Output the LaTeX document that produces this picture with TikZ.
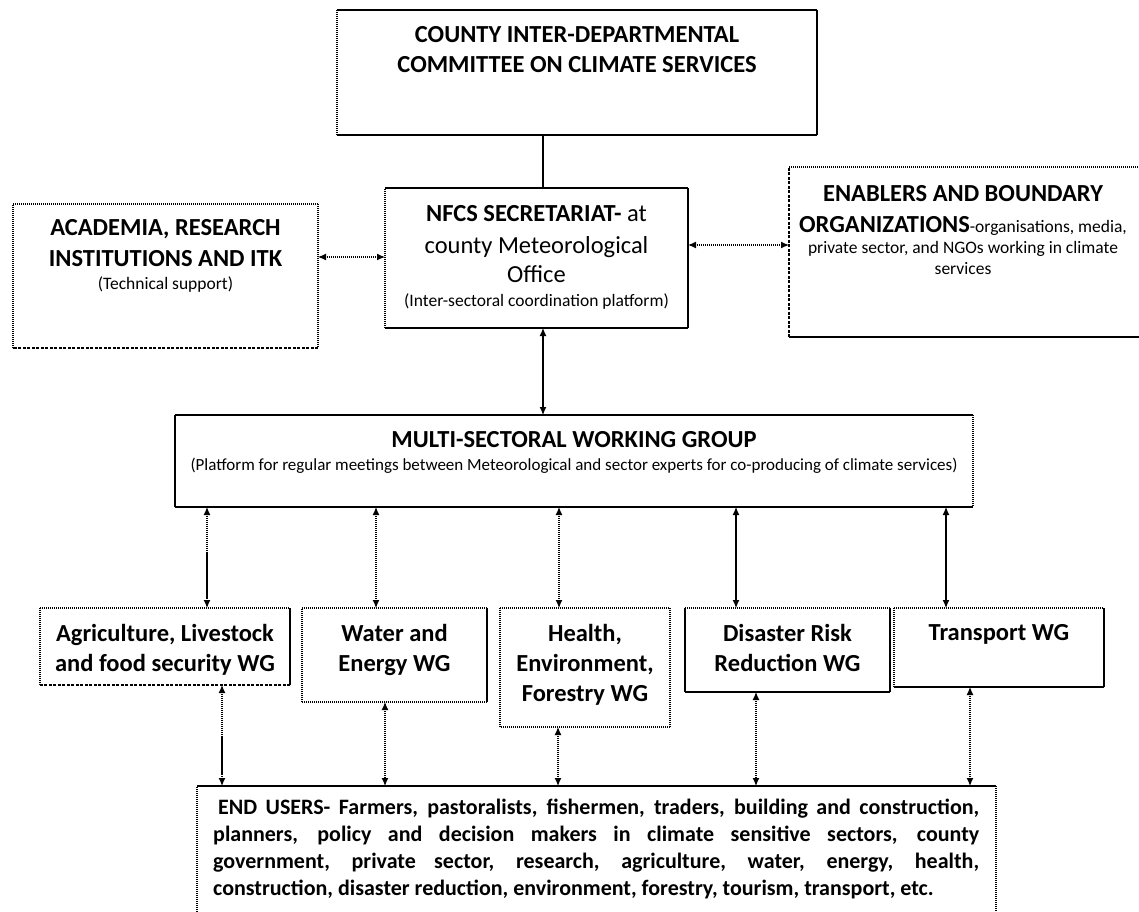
\documentclass[tikz,border=0pt]{standalone}
\usepackage{fontspec}
\setmainfont{Carlito}
\usetikzlibrary{arrows.meta,calc}
\newcommand\smtxt{\fontsize{17.5}{20}\selectfont\mdseries}
\newcommand\boxsides[5]{%
  \draw[#2] (#1.north west) -- (#1.north east);
  \draw[#3] (#1.north east) -- (#1.south east);
  \draw[#4] (#1.south east) -- (#1.south west);
  \draw[#5] (#1.south west) -- (#1.north west);
}
\tikzset{
  lnsolid/.style={line width=1.2pt},
  lndot/.style={line width=1.2pt, dash pattern=on 1pt off 1pt},
  lndash/.style={line width=1.2pt, dash pattern=on 3pt off 1.5pt},
  bx/.style={rectangle, inner sep=0pt, outer sep=0pt, anchor=north west},
  big/.style={font=\fontsize{24.5}{30}\selectfont\bfseries},
  wgf/.style={font=\fontsize{24.5}{30}\selectfont\bfseries},
  tx/.style={inner sep=0pt, anchor=north, align=center},
  dbl/.style={{Latex[length=8pt,width=7pt]}-{Latex[length=8pt,width=7pt]}},
}
\begin{document}
\begin{tikzpicture}[x=1pt,y=-1pt]
\useasboundingbox (0,0) rectangle (1139,911);
\clip (0,0) rectangle (1139,911);
\fill[white] (0,0) rectangle (1139,911);

% boxes
\node[bx, minimum width=480pt, minimum height=125pt] (top) at (337,10) {};
\node[bx, minimum width=305pt, minimum height=144pt] (acad) at (13,204) {};
\node[bx, minimum width=303pt, minimum height=140pt] (nfcs) at (385,188) {};
\node[bx, minimum width=352pt, minimum height=170pt] (enab) at (789,167) {};
\node[bx, minimum width=798pt, minimum height=92pt] (mswg) at (175,415) {};
\node[bx, minimum width=250pt, minimum height=77pt] (agri) at (40,608) {};
\node[bx, minimum width=185pt, minimum height=94pt] (water) at (302,608) {};
\node[bx, minimum width=170pt, minimum height=119pt] (health) at (500,608) {};
\node[bx, minimum width=205pt, minimum height=84pt] (dis) at (685,608) {};
\node[bx, minimum width=210pt, minimum height=79pt] (trans) at (894,608) {};
\node[bx, minimum width=799pt, minimum height=140pt] (users) at (197,786) {};

\boxsides{top}{lnsolid}{lnsolid}{lnsolid}{lndot}
\boxsides{acad}{lndot}{lndot}{lndash}{lndot}
\boxsides{nfcs}{lnsolid}{lnsolid}{lnsolid}{lndot}
\boxsides{enab}{lndot}{lnsolid}{lnsolid}{lndash}
\boxsides{mswg}{lnsolid}{lndot}{lnsolid}{lnsolid}
\boxsides{agri}{lndot}{lnsolid}{lndash}{lndot}
\boxsides{water}{lndot}{lnsolid}{lndot}{lndot}
\boxsides{health}{lndot}{lndot}{lndot}{lndot}
\boxsides{dis}{lndot}{lnsolid}{lnsolid}{lnsolid}
\boxsides{trans}{lndot}{lnsolid}{lnsolid}{lndot}
\boxsides{users}{lnsolid}{lndot}{lnsolid}{lndot}

% texts
\node[tx, big] (toptxt) at ([yshift=-16pt]top.north)
  {COUNTY INTER-DEPARTMENTAL\\COMMITTEE ON CLIMATE SERVICES};
\node[tx, big] (acadtxt) at ([yshift=-15pt]acad.north)
  {ACADEMIA, RESEARCH\\[1pt]INSTITUTIONS AND ITK\\[-7pt]{\smtxt (Technical support)}};
\node[tx, big] (nfcstxt) at ([yshift=-17pt]nfcs.north)
  {NFCS SECRETARIAT-{\mdseries\ at}\\[2pt]{\mdseries county Meteorological}\\[-1pt]{\mdseries Office}\\[-6pt]{\smtxt (Inter-sectoral coordination platform)}};
\node[tx, big] (enabtxt) at ([yshift=-18pt]enab.north -| 963,0)
  {ENABLERS AND BOUNDARY\\[1pt]ORGANIZATIONS{\smtxt -organisations, media,}\\[-9pt]{\smtxt private sector, and NGOs working in climate}\\[-9pt]{\smtxt services}};
\node[tx, big] (mswgtxt) at ([yshift=-16pt]mswg.north)
  {MULTI-SECTORAL WORKING GROUP\\[-7pt]{\fontsize{17}{20}\selectfont\mdseries (Platform for regular meetings between Meteorological and sector experts for co-producing of climate services)}};
\node[tx, wgf] (agritxt) at ([yshift=-16pt]agri.north) {Agriculture, Livestock\\and food security WG};
\node[tx, wgf] (watertxt) at ([yshift=-16pt]water.north) {Water and\\Energy WG};
\node[tx, wgf] (healthtxt) at ([yshift=-16pt]health.north) {Health,\\Environment,\\Forestry WG};
\node[tx, wgf] (distxt) at ([yshift=-16pt]dis.north) {Disaster Risk\\Reduction WG};
\node[tx, wgf] (transtxt) at ([yshift=-16pt]trans.north) {Transport WG};
\node[inner sep=0pt, anchor=north west, align=justify, text width=766pt,
      font=\fontsize{22}{27}\selectfont\bfseries] (userstxt) at (213,799)
  {\hspace*{5pt}END USERS- Farmers, pastoralists, fishermen, traders, building and construction,\linebreak
   planners, policy and decision makers in climate sensitive sectors, county\linebreak
   government, private sector, research, agriculture, water, energy, health,\linebreak
   construction, disaster reduction, environment, forestry, tourism, transport, etc.};

% connector positions
\coordinate (cA) at (543,0);
\coordinate (rA) at (0,257);
\coordinate (rB) at (0,245);
\coordinate (u1) at (207,0);
\coordinate (u2) at (376,0);
\coordinate (u3) at (559,0);
\coordinate (u4) at (736,0);
\coordinate (u5) at (946,0);
\coordinate (d1) at (222,0);
\coordinate (d2) at (385,0);
\coordinate (d3) at (558,0);
\coordinate (d4) at (756,0);
\coordinate (d5) at (970,0);

% connectors
\draw[lnsolid] (top.south -| cA) -- (nfcs.north -| cA);
\draw[lndot, dbl] (acad.east |- rA) -- (nfcs.west |- rA);
\draw[lndot, dbl] (nfcs.east |- rB) -- (enab.west |- rB);
\draw[lnsolid, dbl] (nfcs.south -| cA) -- (mswg.north -| cA);

\draw[lndot, dbl] (mswg.south -| u1) -- (agri.north -| u1);
\draw[lnsolid] ($(mswg.south -| u1)!0.45!(agri.north -| u1)$) -- ($(mswg.south -| u1)!0.9!(agri.north -| u1)$);
\draw[lndot, dbl] (mswg.south -| u2) -- (water.north -| u2);
\draw[lndot, dbl] (mswg.south -| u3) -- (health.north -| u3);
\draw[lnsolid, dbl] (mswg.south -| u4) -- (dis.north -| u4);
\draw[lnsolid, dbl] (mswg.south -| u5) -- (trans.north -| u5);

\draw[lndot, dbl] (agri.south -| d1) -- (users.north -| d1);
\draw[lnsolid] ($(agri.south -| d1)!0.5!(users.north -| d1)$) -- ($(agri.south -| d1)!0.88!(users.north -| d1)$);
\draw[lndot, dbl] (water.south -| d2) -- (users.north -| d2);
\draw[lndot, dbl] (health.south -| d3) -- (users.north -| d3);
\draw[lndot, dbl] (dis.south -| d4) -- (users.north -| d4);
\draw[lndot, dbl] (trans.south -| d5) -- (users.north -| d5);
\end{tikzpicture}
\end{document}
